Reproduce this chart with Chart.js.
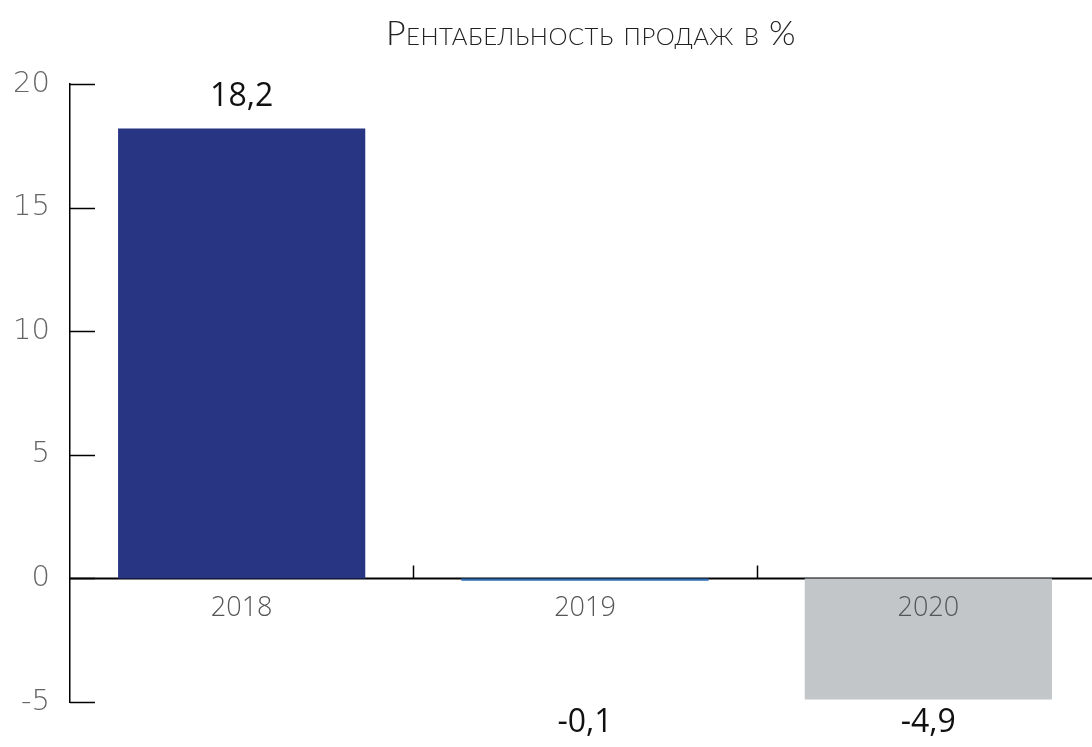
<!DOCTYPE html>
<html>
<head>
<meta charset="utf-8">
<script src="https://cdn.jsdelivr.net/npm/chart.js@4/dist/chart.umd.min.js"></script>
<style>
  html, body { margin: 0; padding: 0; background: #fff; overflow: hidden; width: 1092px; height: 747px; }
  #wrap { position: relative; width: 1100px; height: 747px; }
</style>
</head>
<body>
<div id="wrap"><canvas id="c" width="1100" height="747"></canvas></div>
<script>
const titleText = 'Рентабельность продаж в %';
const categories = ['2018', '2019', '2020'];
const values = [18.2, -0.1, -4.9];
const valueLabels = ['18,2', '-0,1', '-4,9'];
const barColors = ['#283583', '#2e6db4', '#c3c6c9'];
const yTicks = [-5, 0, 5, 10, 15, 20];

const decor = {
  id: 'decor',
  beforeDatasetsDraw(chart) {
    const ctx = chart.ctx, x = chart.scales.x, y = chart.scales.y, ca = chart.chartArea;
    ctx.save();
    ctx.strokeStyle = '#000';
    ctx.lineWidth = 1.5;
    yTicks.forEach(v => {
      const py = Math.round(y.getPixelForValue(v)) + 0.5;
      ctx.beginPath(); ctx.moveTo(ca.left, py); ctx.lineTo(ca.left + 25, py); ctx.stroke();
    });
    const zy = Math.round(y.getPixelForValue(0)) + 0.5;
    ctx.lineWidth = 2;
    ctx.beginPath(); ctx.moveTo(ca.left, zy); ctx.lineTo(chart.width, zy); ctx.stroke();
    ctx.lineWidth = 1.5;
    for (let i = 1; i < categories.length; i++) {
      const bx = Math.round((x.getPixelForValue(i - 1) + x.getPixelForValue(i)) / 2) + 0.5;
      ctx.beginPath(); ctx.moveTo(bx, zy); ctx.lineTo(bx, zy - 13); ctx.stroke();
    }
    ctx.restore();
  },
  afterDraw(chart) {
    const ctx = chart.ctx, x = chart.scales.x, y = chart.scales.y, ca = chart.chartArea;
    ctx.save();
    ctx.font = 'small-caps 300 34px Lato, "Open Sans", sans-serif';
    ctx.letterSpacing = '0.5px';
    ctx.fillStyle = '#222';
    ctx.textAlign = 'center';
    ctx.textBaseline = 'middle';
    ctx.fillText(titleText, 591, 34);
    ctx.letterSpacing = '0px';
    ctx.font = '400 32px "Open Sans", "Noto Sans", sans-serif';
    ctx.fillStyle = '#111';
    values.forEach((v, i) => {
      const px = x.getPixelForValue(i);
      let py;
      if (v >= 0) py = y.getPixelForValue(v) - 32;
      else py = ca.bottom + 21;
      ctx.fillText(valueLabels[i], px, py);
    });
    ctx.restore();
  }
};

new Chart(document.getElementById('c'), {
  type: 'bar',
  data: {
    labels: categories,
    datasets: [{
      data: values,
      backgroundColor: barColors,
      borderWidth: 0,
      barPercentage: 0.72,
      categoryPercentage: 1
    }]
  },
  options: {
    responsive: false,
    animation: false,
    layout: { padding: { top: 84, bottom: 45, left: 0, right: 0 } },
    plugins: { legend: { display: false }, tooltip: { enabled: false }, title: { display: false } },
    scales: {
      x: {
        position: { y: 0 },
        grid: { display: false, drawTicks: false },
        border: { display: false },
        ticks: {
          z: 1,
          autoSkip: false,
          maxRotation: 0,
          color: '#555',
          padding: 14,
          font: { family: '"Open Sans", "Noto Sans", sans-serif', size: 27, weight: 300 }
        },
        afterFit(s) { s.height = 0; }
      },
      y: {
        min: -5, max: 20,
        afterBuildTicks(s) { s.ticks = yTicks.map(v => ({ value: v })); },
        grid: { display: false, drawTicks: false },
        border: { display: true, color: '#000', width: 1.5 },
        ticks: {
          color: '#666',
          padding: 20,
          font: { family: '"DejaVu Sans", Lato, sans-serif', size: 29, weight: 200 }
        },
        afterFit(s) { s.width = 70; }
      }
    }
  },
  plugins: [decor]
});
</script>
</body>
</html>
